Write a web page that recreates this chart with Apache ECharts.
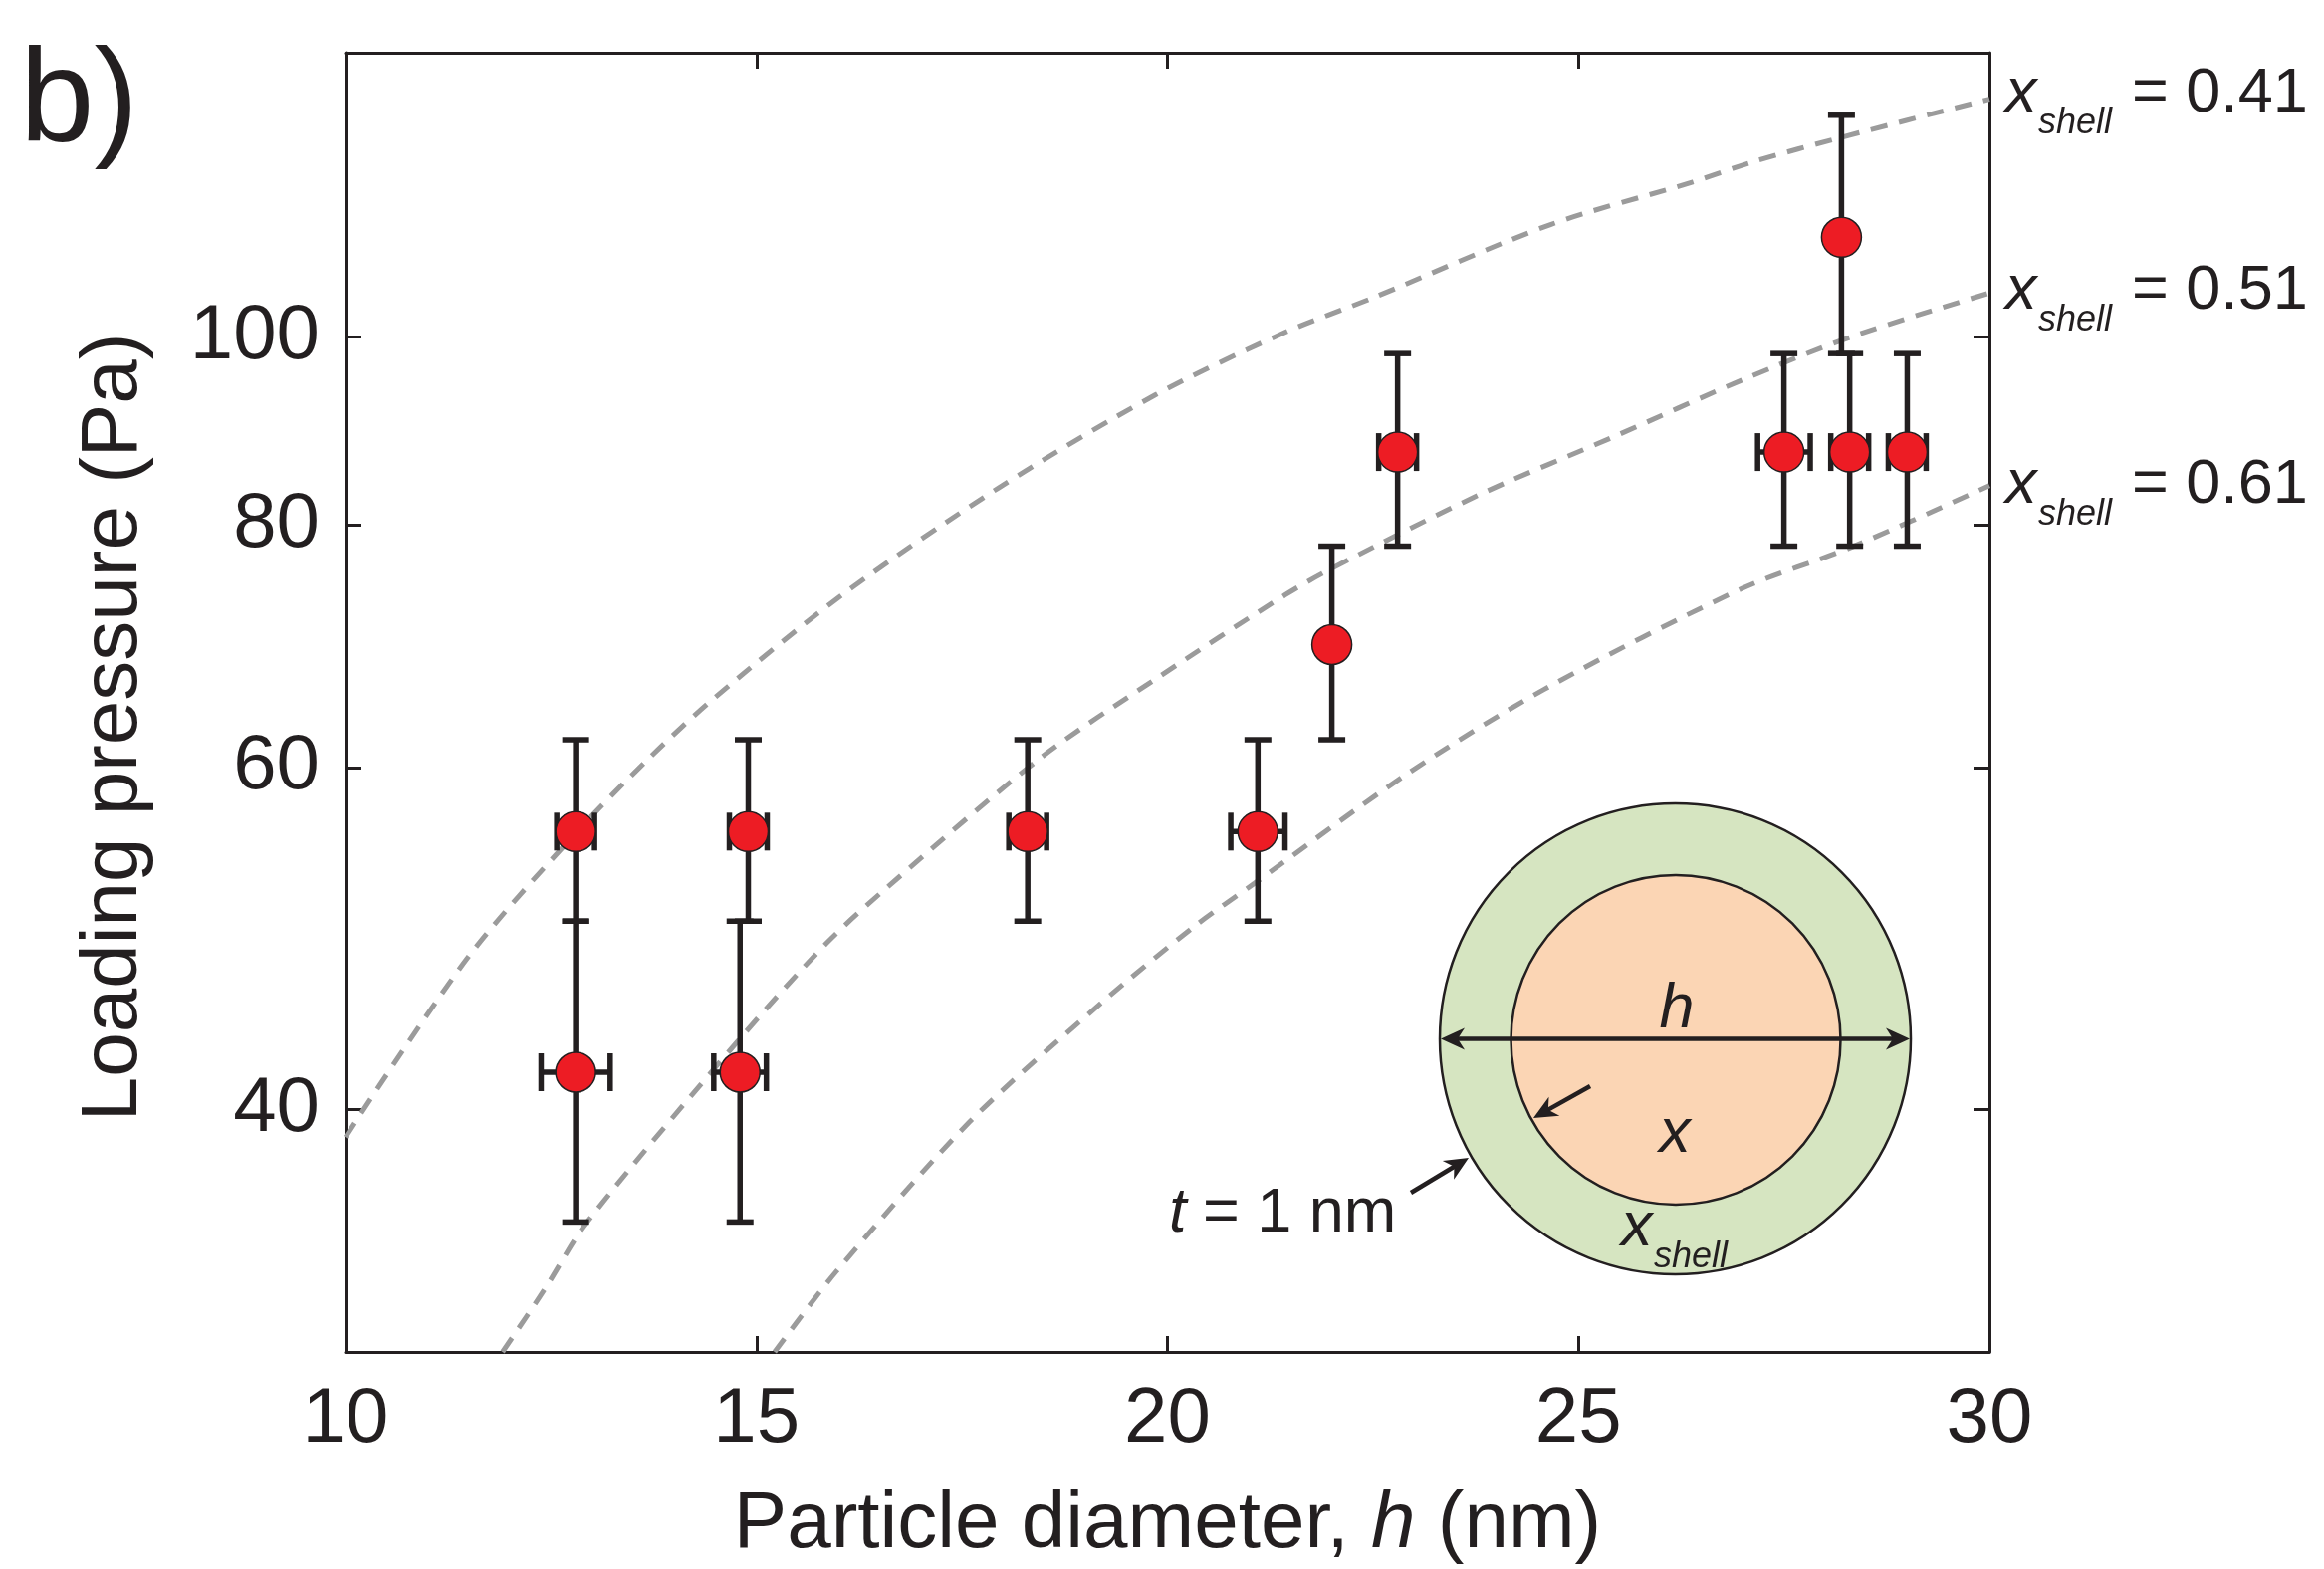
<!DOCTYPE html>
<html><head><meta charset="utf-8">
<script src="https://cdn.jsdelivr.net/npm/echarts@6/dist/echarts.min.js"></script>
<style>html,body{margin:0;padding:0;background:#fff}#c{width:2334px;height:1576px}</style>
</head><body><div id="c"></div>
<script>
// ---- data ----
const diameters    = [12.8, 12.8, 14.9, 14.8, 18.3, 21.1, 22.0, 22.8, 27.5, 28.2, 28.3, 29.0];
const pressures    = [55.6, 41.8, 55.6, 41.8, 55.6, 55.6, 69.4, 87.2, 87.2, 112.5, 87.2, 87.2];
const pressureLow  = [50, 35, 50, 35, 50, 50, 62, 78, 78, 98, 78, 78];
const pressureHigh = [62, 50, 62, 50, 62, 62, 78, 98, 98, 130, 98, 98];
const diameterErr  = [0.23, 0.42, 0.23, 0.32, 0.23, 0.33, 0, 0.23, 0.32, 0, 0.23, 0.23];

const curve041 = [[10, 38.7], [11.49, 47.9], [12.8, 55.5], [13.70, 60.7], [14.48, 65.1], [16.04, 73.6], [17.95, 83.6], [19.85, 93.3], [21.43, 100.5], [22.50, 104.7], [24.66, 114.2], [26.39, 120.1], [27.12, 123.0], [28.22, 126.7], [30, 132.5]];
const curve051 = [[11.91, 30], [12.42, 32.3], [12.94, 35.0], [14.80, 43.5], [15.85, 48.7], [16.58, 52.0], [18.46, 60.7], [19.85, 66.6], [21.43, 73.6], [22.01, 76.0], [23.82, 83.0], [25.43, 88.8], [27.0, 95.0], [28.3, 99.9], [30, 105.3]];
const curve061 = [[15.22, 30], [15.97, 33.0], [17.59, 39.4], [19.20, 45.4], [20.33, 49.7], [21.06, 52.3], [22.88, 59.4], [24.58, 65.8], [27.0, 74.2], [28.32, 77.9], [30, 83.8]];

const xTicks = [10, 15, 20, 25, 30];
const yTicks = [40, 60, 80, 100];
const curveLabels = ['0.41', '0.51', '0.61'];

// ---- styling ----
const INK = '#231F20';
const FONT = '"Liberation Sans", Arial, Helvetica, sans-serif';
const GRAY = '#9B9B9B';

const errData = diameters.map((d, i) => [d, pressures[i], pressureLow[i], pressureHigh[i], diameterErr[i]]);
const ptData = diameters.map((d, i) => [d, pressures[i]]);

function seg(x1, y1, x2, y2, w) {
  return {type: 'line', shape: {x1, y1, x2, y2}, style: {stroke: INK, lineWidth: w, lineCap: 'butt'}};
}

function renderErr(params, api) {
  const x = api.value(0), y = api.value(1), lo = api.value(2), hi = api.value(3), dx = api.value(4);
  const pLo = api.coord([x, lo]), pHi = api.coord([x, hi]), pC = api.coord([x, y]);
  const W = 5.5, CAPW = 13.5, CAPH = 19;
  const ch = [
    seg(pLo[0], pLo[1], pHi[0], pHi[1], W),
    seg(pLo[0] - CAPW, pLo[1], pLo[0] + CAPW, pLo[1], W),
    seg(pHi[0] - CAPW, pHi[1], pHi[0] + CAPW, pHi[1], W)
  ];
  if (dx > 0) {
    const pL = api.coord([x - dx, y]), pR = api.coord([x + dx, y]);
    ch.push(seg(pL[0], pC[1], pR[0], pC[1], W));
    ch.push(seg(pL[0], pC[1] - CAPH, pL[0], pC[1] + CAPH, W));
    ch.push(seg(pR[0], pC[1] - CAPH, pR[0], pC[1] + CAPH, W));
  }
  return {type: 'group', children: ch};
}

function txt(str, x, base, size, italic, align) {
  return {
    type: 'text', z: 60, x: x, y: base - 0.3465 * size + 6,
    style: {
      text: str, fill: INK,
      font: (italic ? 'italic ' : '') + size + 'px ' + FONT,
      textAlign: align || 'left', align: align || 'left',
      textVerticalAlign: 'middle', verticalAlign: 'middle'
    }
  };
}

function arrowHead(tx, ty, fx, fy) {
  const len = 24, half = 11, notch = 7;
  const dx = tx - fx, dy = ty - fy, L = Math.hypot(dx, dy), ux = dx / L, uy = dy / L, px = -uy, py = ux;
  const bx = tx - ux * len, by = ty - uy * len;
  return {type: 'polygon', z: 62, shape: {points: [[tx, ty], [bx + px * half, by + py * half], [tx - ux * (len - notch), ty - uy * (len - notch)], [bx - px * half, by - py * half]]}, style: {fill: INK}};
}
function arrowLine(x1, y1, x2, y2) {
  const dx = x2 - x1, dy = y2 - y1, L = Math.hypot(dx, dy);
  const ex = x2 - dx / L * 14, ey = y2 - dy / L * 14;
  return [{type: 'line', z: 61, shape: {x1, y1, x2: ex, y2: ey}, style: {stroke: INK, lineWidth: 4.5}}, arrowHead(x2, y2, x1, y1)];
}

// right-hand curve labels (x_shell = ...)
const labelBases = [110, 308, 503];
const rightLabels = [];
curveLabels.forEach((lab, i) => {
  const b = labelBases[i];
  rightLabels.push(txt('x', 2014, b, 63, true));
  rightLabels.push(txt('shell', 2047, b + 20, 36, true));
  rightLabels.push(txt('= ' + lab, 2141, b, 63, false));
});

// inset schematic
const cx = 1682.5, cy = 1043.5;
const inset = [
  {type: 'circle', z: 55, shape: {cx: cx, cy: cy, r: 236.5}, style: {fill: '#D6E5C1', stroke: INK, lineWidth: 2.5}},
  {type: 'circle', z: 56, shape: {cx: cx + 0.5, cy: cy + 1, r: 165.5}, style: {fill: '#FBD5B4', stroke: INK, lineWidth: 2.5}},
  {type: 'line', z: 61, shape: {x1: 1460, y1: cy, x2: 1905, y2: cy}, style: {stroke: INK, lineWidth: 4.5}},
  arrowHead(1447, cy, 1600, cy),
  arrowHead(1918, cy, 1700, cy),
  ...arrowLine(1597, 1091, 1540, 1123),
  ...arrowLine(1417, 1198, 1475, 1163),
  txt('h', 1684, 1030, 63, true, 'center'),
  txt('x', 1682, 1155, 63, true, 'center'),
  txt('x', 1628, 1249, 63, true),
  txt('shell', 1661, 1269, 36, true),
  txt('t', 1174, 1235, 63, true),
  txt('= 1 nm', 1208, 1235, 63, false),
  txt('b)', 20, 145, 134, false)
];

const axisLineStyle = {show: true, onZero: false, lineStyle: {color: INK, width: 3}};
const tickStyle = {show: true, inside: true, length: 16, lineStyle: {color: INK, width: 3}};

const option = {
  animation: false,
  backgroundColor: '#ffffff',
  grid: {left: 347, right: 336, top: 53, bottom: 218, containLabel: false, outerBoundsMode: 'none'},
  xAxis: [
    {
      type: 'value', min: xTicks[0], max: xTicks[xTicks.length - 1], interval: 5, position: 'bottom',
      axisLine: axisLineStyle, axisTick: tickStyle, splitLine: {show: false}, minorTick: {show: false},
      axisLabel: {show: true, margin: 29, fontSize: 78, color: INK, fontFamily: FONT},
      name: '{n|Particle diameter, }{i|h}{n| (nm)}', nameLocation: 'middle', nameGap: 134,
      nameTextStyle: {fontSize: 80, color: INK, fontFamily: FONT,
        rich: {n: {fontSize: 80, color: INK, fontFamily: FONT}, i: {fontSize: 80, color: INK, fontFamily: FONT, fontStyle: 'italic'}}}
    },
    {
      type: 'value', min: xTicks[0], max: xTicks[xTicks.length - 1], interval: 5, position: 'top',
      axisLine: axisLineStyle, axisTick: tickStyle, splitLine: {show: false}, axisLabel: {show: false}
    }
  ],
  yAxis: [
    {
      type: 'log', logBase: 10, min: 30, max: 140, position: 'left',
      axisLine: axisLineStyle, axisTick: Object.assign({}, tickStyle, {customValues: yTicks}),
      splitLine: {show: false}, minorTick: {show: false}, minorSplitLine: {show: false},
      axisLabel: {show: true, customValues: yTicks, margin: 26, fontSize: 78, color: INK, fontFamily: FONT},
      name: 'Loading pressure (Pa)', nameLocation: 'middle', nameGap: 192, nameRotate: 90,
      nameTextStyle: {fontSize: 80, color: INK, fontFamily: FONT, padding: [0, 50, 0, 0]}
    },
    {
      type: 'log', logBase: 10, min: 30, max: 140, position: 'right',
      axisLine: axisLineStyle, axisTick: Object.assign({}, tickStyle, {customValues: yTicks}),
      splitLine: {show: false}, minorTick: {show: false}, axisLabel: {show: false}
    }
  ],
  series: [
    {type: 'line', name: 'x_shell 0.41', data: curve041, smooth: 0.3, showSymbol: false, z: 1, silent: true,
      lineStyle: {color: GRAY, width: 5, type: [17, 12]}},
    {type: 'line', name: 'x_shell 0.51', data: curve051, smooth: 0.3, showSymbol: false, z: 1, silent: true,
      lineStyle: {color: GRAY, width: 5, type: [17, 12]}},
    {type: 'line', name: 'x_shell 0.61', data: curve061, smooth: 0.3, showSymbol: false, z: 1, silent: true,
      lineStyle: {color: GRAY, width: 5, type: [17, 12]}},
    {type: 'custom', name: 'error', data: errData, renderItem: renderErr, z: 3, encode: {x: 0, y: 1}},
    {type: 'scatter', name: 'points', data: ptData, symbol: 'circle', symbolSize: 40, z: 4,
      itemStyle: {color: '#ED1C24', borderColor: INK, borderWidth: 1.5, opacity: 1}}
  ],
  graphic: {elements: rightLabels.concat(inset)}
};

const chart = echarts.init(document.getElementById('c'), null, {renderer: 'canvas', width: 2334, height: 1576});
chart.setOption(option);
</script></body></html>
